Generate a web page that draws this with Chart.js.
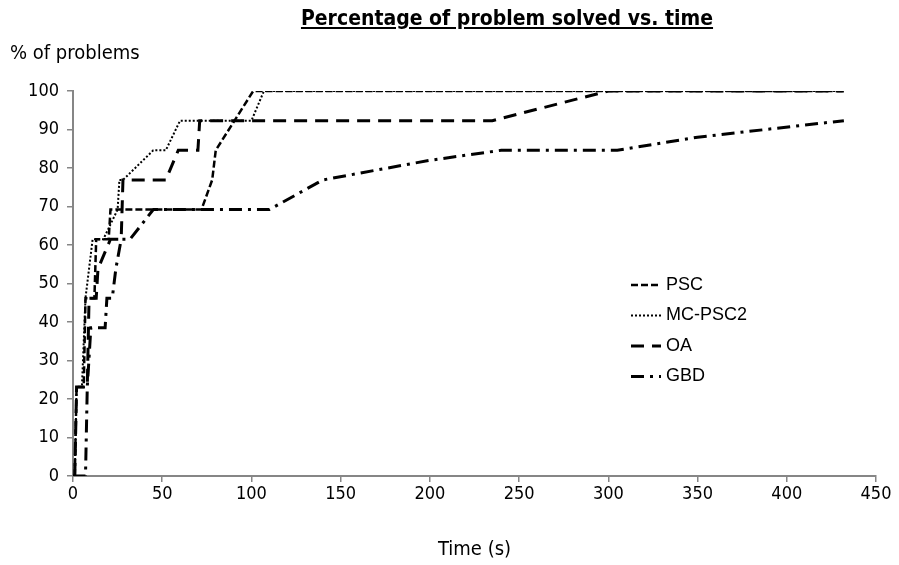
<!DOCTYPE html>
<html>
<head>
<meta charset="utf-8">
<script src="https://cdn.jsdelivr.net/npm/chart.js@4.4.0/dist/chart.umd.min.js"></script>
<style>
  body { margin: 0; background: #fff; }
  #wrap { position: relative; width: 899px; height: 565px; }
  #titulo {
    position: absolute; top: 6px; left: 507px; transform: translateX(-50%);
    font: bold 21px "Liberation Sans Narrow", "DejaVu Sans Condensed", Arial, sans-serif;
    text-decoration: underline; white-space: nowrap; color: #000;
  }
  #ejeY {
    position: absolute; top: 40px; left: 10px;
    font: 20px "Liberation Sans Narrow", "DejaVu Sans Condensed", Arial, sans-serif;
    color: #000; white-space: nowrap;
  }
</style>
</head>
<body>
<div id="wrap">
  <canvas id="grafica" width="899" height="565"></canvas>
  <div id="titulo">Percentage of problem solved vs. time</div>
  <div id="ejeY">% of problems</div>
</div>
<script>
// Datos (tiempo en s, % de problemas)
const nombres = ["PSC", "MC-PSC2", "OA", "GBD"];

const psc_t = [1, 2, 6, 7, 12, 13, 20, 21, 72, 78, 80, 101, 432];
const psc_v = [0, 23.1, 23.1, 46.2, 46.2, 61.5, 61.5, 69.2, 69.2, 76.9, 84.6, 100, 100];

const mcpsc2_t = [1, 2, 5, 7, 11, 17, 25, 26, 28, 45, 52, 60, 100, 107, 432];
const mcpsc2_v = [0, 23.1, 23.1, 46.2, 61.5, 61.5, 69.2, 76.9, 76.9, 84.6, 84.6, 92.3, 92.3, 100, 100];

const oa_t = [1, 2, 8, 9, 13, 14, 21, 27, 28, 52, 59, 70, 71, 235, 300, 432];
const oa_v = [0, 23.1, 23.1, 46.2, 46.2, 53.8, 61.5, 61.5, 76.9, 76.9, 84.6, 84.6, 92.3, 92.3, 100, 100];

const gbd_t = [0, 7, 8, 10, 18, 19, 22, 24, 27, 32, 45, 110, 140, 200, 240, 305, 350, 432];
const gbd_v = [0, 0, 23.1, 38.5, 38.5, 46.2, 46.2, 53.8, 61.5, 61.5, 69.2, 69.2, 76.9, 82, 84.6, 84.6, 88, 92.3];

const xTicks = [0, 50, 100, 150, 200, 250, 300, 350, 400, 450];
const yTicks = [0, 10, 20, 30, 40, 50, 60, 70, 80, 90, 100];

const fuente = '"Liberation Sans Narrow", "DejaVu Sans Condensed", Arial, sans-serif';

function puntos(t, v) {
  return t.map((x, i) => ({ x: x, y: v[i] }));
}

// Estilos de linea
const estilos = [
  { borderDash: [7, 3], borderWidth: 2.5 },
  { borderDash: [2, 2], borderWidth: 2 },
  { borderDash: [13, 8], borderWidth: 3 },
  { borderDash: [13, 6, 3, 6], borderWidth: 3 },
];

const series = [
  puntos(psc_t, psc_v),
  puntos(mcpsc2_t, mcpsc2_v),
  puntos(oa_t, oa_v),
  puntos(gbd_t, gbd_v),
];

const datasets = series.map((d, i) => ({
  label: nombres[i],
  data: d,
  showLine: true,
  borderColor: "#000",
  borderWidth: estilos[i].borderWidth,
  borderDash: estilos[i].borderDash,
  borderCapStyle: "butt",
  pointRadius: 0,
  tension: 0,
  fill: false,
}));

// Leyenda dentro del area de trazado
const leyenda = {
  id: "leyenda",
  afterDatasetsDraw(chart) {
    const ctx = chart.ctx;
    ctx.save();
    chart.data.datasets.forEach((ds, i) => {
      const y = 285 + i * 30.5;
      ctx.strokeStyle = "#000";
      ctx.lineWidth = ds.borderWidth;
      ctx.setLineDash(ds.borderDash);
      ctx.beginPath();
      ctx.moveTo(631, y);
      ctx.lineTo(661, y);
      ctx.stroke();
      ctx.setLineDash([]);
      ctx.fillStyle = "#000";
      ctx.font = '18px "Liberation Sans", Arial, sans-serif';
      ctx.textBaseline = "middle";
      ctx.fillText(ds.label, 666, y);
    });
    ctx.restore();
  },
};

new Chart(document.getElementById("grafica"), {
  type: "scatter",
  data: { datasets: datasets },
  options: {
    responsive: false,
    animation: false,
    layout: { padding: { top: 91, right: 23, left: 0, bottom: 0 } },
    plugins: { legend: { display: false }, tooltip: { enabled: false } },
    scales: {
      x: {
        type: "linear",
        min: 0,
        max: 450,
        afterBuildTicks: (s) => { s.ticks = xTicks.map((v) => ({ value: v })); },
        afterFit: (s) => { s.height = 89; },
        ticks: { color: "#000", font: { family: fuente, size: 18 }, padding: 2, maxRotation: 0 },
        grid: { drawOnChartArea: false, drawTicks: true, tickLength: 6, color: "#868686", lineWidth: 1.5 },
        border: { color: "#868686", width: 2 },
        title: { display: true, text: "Time (s)", color: "#000", font: { family: fuente, size: 20 }, padding: { top: 0, bottom: 3 } },
      },
      y: {
        type: "linear",
        min: 0,
        max: 100,
        afterBuildTicks: (s) => { s.ticks = yTicks.map((v) => ({ value: v })); },
        afterFit: (s) => { s.width = 73; },
        ticks: { color: "#000", font: { family: fuente, size: 18 }, padding: 8 },
        grid: { drawOnChartArea: false, drawTicks: true, tickLength: 6, color: "#868686", lineWidth: 1.5 },
        border: { color: "#868686", width: 2 },
      },
    },
  },
  plugins: [leyenda],
});
</script>
</body>
</html>
